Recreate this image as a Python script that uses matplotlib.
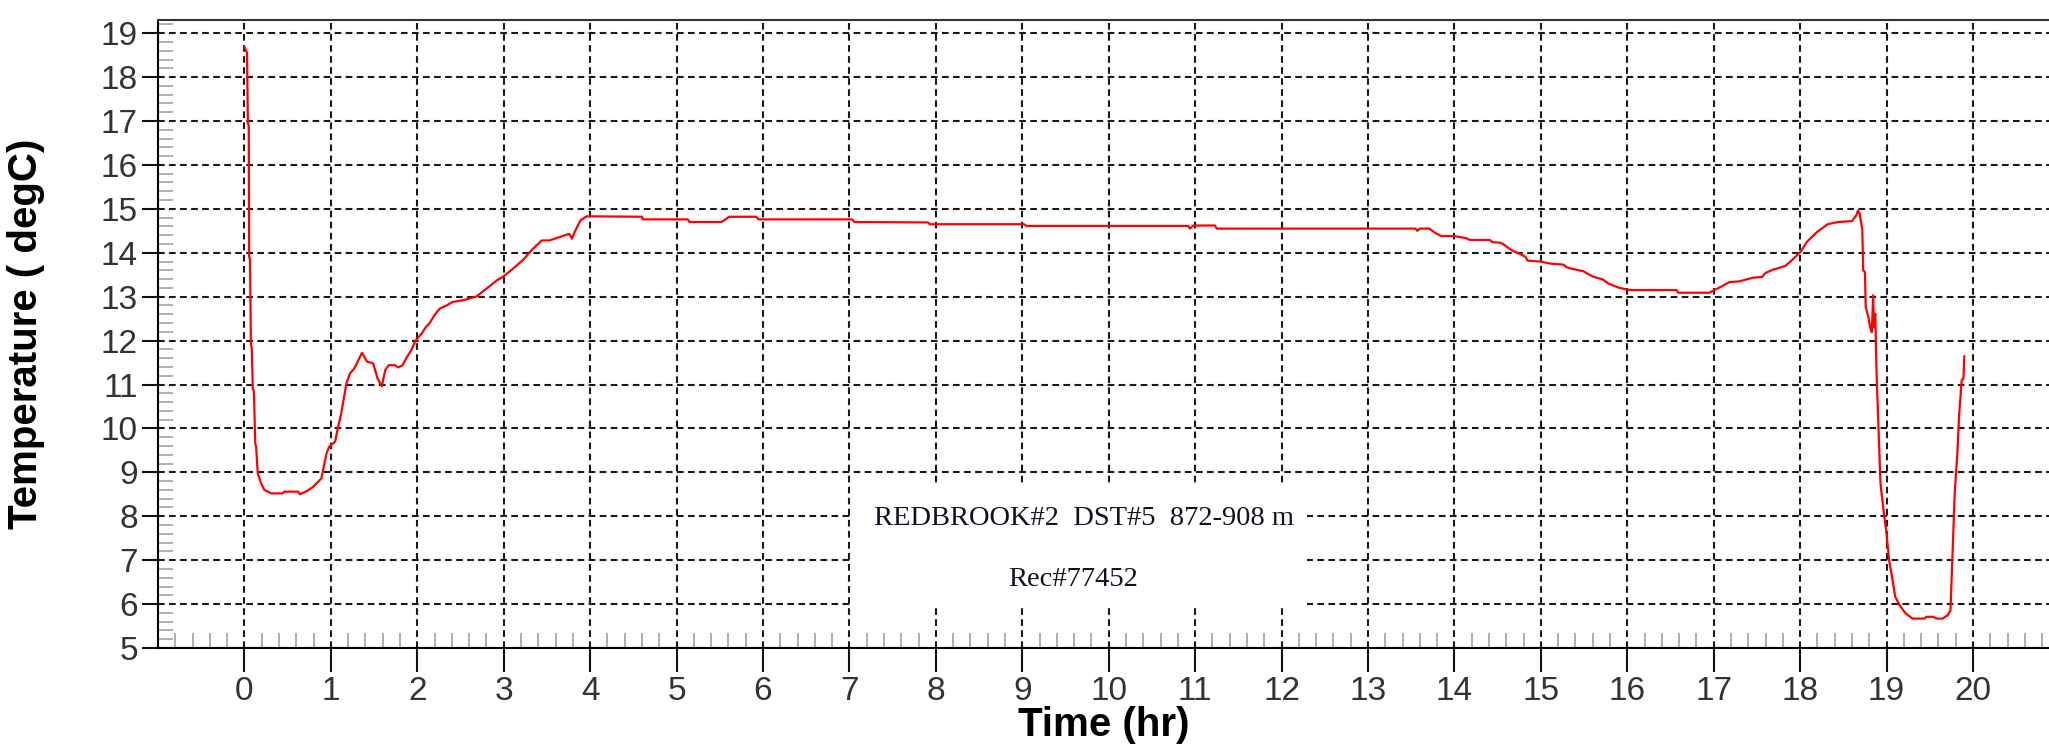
import numpy as np
import matplotlib
matplotlib.use('Agg')
import matplotlib.pyplot as plt
from matplotlib.ticker import MultipleLocator
from matplotlib.patches import Rectangle

plt.rcParams['font.family'] = ['Liberation Sans', 'DejaVu Sans']

# gauge record: elapsed time (hr) and temperature (degC)
time_hr = [0.0, 0.03, 0.04, 0.05, 0.055, 0.065, 0.075, 0.085, 0.097, 0.11, 0.125, 0.135,
           0.154, 0.193, 0.23, 0.31, 0.44, 0.46, 0.62, 0.64, 0.71, 0.79, 0.89, 0.91,
           0.95, 0.98, 1.05, 1.08, 1.12, 1.18, 1.22, 1.27, 1.31, 1.36, 1.42, 1.49,
           1.54, 1.59, 1.63, 1.67, 1.74, 1.78, 1.83, 1.87, 1.93, 1.98, 2.05, 2.10,
           2.14, 2.20, 2.26, 2.34, 2.41, 2.53, 2.68, 2.80, 2.92, 2.99, 3.11, 3.22,
           3.32, 3.44, 3.53, 3.65, 3.76, 3.79, 3.82, 3.87, 3.89, 3.96, 4.60, 4.61,
           5.13, 5.15, 5.52, 5.61, 5.92, 5.95, 7.03, 7.06, 7.91, 7.93, 9.02, 9.05,
           10.92, 10.94, 10.98, 11.23, 11.25, 13.55, 13.57, 13.60, 13.71, 13.78, 13.85, 14.0,
           14.14, 14.18, 14.41, 14.44, 14.53, 14.57, 14.66, 14.76, 14.82, 14.85, 14.99, 15.12,
           15.26, 15.30, 15.37, 15.49, 15.60, 15.72, 15.78, 15.91, 16.03, 16.57, 16.59, 16.95,
           17.01, 17.08, 17.18, 17.30, 17.45, 17.56, 17.60, 17.68, 17.83, 17.91, 18.01, 18.08,
           18.20, 18.32, 18.44, 18.60, 18.65, 18.67, 18.69, 18.72, 18.73, 18.75, 18.76, 18.79,
           18.81, 18.83, 18.845, 18.855, 18.87, 18.885, 18.91, 18.93, 18.97, 19.0, 19.03, 19.07,
           19.10, 19.15, 19.22, 19.30, 19.44, 19.46, 19.54, 19.58, 19.65, 19.71, 19.74, 19.75,
           19.77, 19.79, 19.82, 19.84, 19.87, 19.89, 19.90]
temp_c = [18.69, 18.55, 16.95, 16.9, 13.9, 13.85, 11.9, 11.85, 10.9, 10.85, 9.65, 9.6,
          8.98, 8.75, 8.6, 8.52, 8.52, 8.56, 8.56, 8.5, 8.56, 8.66, 8.86, 9.05,
          9.43, 9.58, 9.7, 10.0, 10.34, 11.02, 11.25, 11.36, 11.52, 11.72, 11.52, 11.48,
          11.14, 10.96, 11.33, 11.44, 11.44, 11.39, 11.44, 11.59, 11.78, 12.0, 12.16, 12.31,
          12.39, 12.58, 12.73, 12.8, 12.88, 12.92, 13.0, 13.18, 13.37, 13.45, 13.64, 13.83,
          14.05, 14.28, 14.28, 14.36, 14.43, 14.32, 14.47, 14.66, 14.74, 14.83, 14.82, 14.76,
          14.76, 14.7, 14.7, 14.82, 14.82, 14.76, 14.76, 14.7, 14.69, 14.65, 14.65, 14.61,
          14.61, 14.55, 14.62, 14.62, 14.55, 14.55, 14.5, 14.55, 14.55, 14.45, 14.38, 14.38,
          14.33, 14.29, 14.29, 14.24, 14.23, 14.19, 14.06, 13.97, 13.91, 13.82, 13.8, 13.75,
          13.73, 13.67, 13.63, 13.58, 13.46, 13.39, 13.3, 13.2, 13.15, 13.15, 13.09, 13.09,
          13.15, 13.22, 13.33, 13.35, 13.43, 13.45, 13.54, 13.61, 13.7, 13.84, 14.03, 14.25,
          14.48, 14.65, 14.7, 14.72, 14.85, 14.96, 14.89, 14.52, 13.6, 13.56, 12.76, 12.54,
          12.31, 12.19, 13.03, 12.31, 12.61, 11.25, 9.84, 8.75, 8.06, 7.61, 7.0, 6.55,
          6.17, 5.98, 5.79, 5.67, 5.67, 5.71, 5.71, 5.67, 5.67, 5.75, 5.86, 6.4,
          7.49, 8.56, 9.43, 10.3, 11.1, 11.13, 11.64]

x_ticks = np.arange(0, 21)
y_ticks = np.arange(5, 20)
title_lines = ['REDBROOK#2  DST#5  872-908 m', 'Rec#77452']

W, H = 2049, 752
fig = plt.figure(figsize=(W / 100, H / 100), dpi=100)
ax = fig.add_axes([158 / W, 1 - 648 / H, 1 - 158 / W, (648 - 20) / H])

ax.plot(time_hr, temp_c, color='#ff0000', linewidth=1.6, zorder=3)

ax.set_xlim(-1, 20.88)
ax.set_ylim(5, 19.3)
ax.set_xticks(x_ticks)
ax.set_yticks(y_ticks)
ax.xaxis.set_minor_locator(MultipleLocator(0.2))
ax.yaxis.set_minor_locator(MultipleLocator(0.2))

ax.grid(True, which='major', color='#1a1a1a', linestyle=(0, (3.2, 2.1)), linewidth=1.5)

ax.tick_params(which='major', direction='out', width=1.5, color='#111111',
               labelsize=24, labelcolor='#333333')
ax.tick_params(axis='x', which='major', length=17, pad=3)
ax.tick_params(axis='y', which='major', length=11.5, pad=3)
ax.tick_params(which='minor', direction='in', length=11, width=1.1, color='#9a9a9a')

ax.spines['right'].set_visible(False)
for side in ['left', 'bottom', 'top']:
    ax.spines[side].set_linewidth(1.5)
ax.spines['top'].set_color('#333333')

# white label panel over the grid
ax.add_patch(Rectangle((7.03, 5.96), 5.27, 2.72, facecolor='white',
                       edgecolor='none', zorder=2))
ax.text(9.71, 7.94, title_lines[0], ha='center', va='center', fontsize=20.5,
        family='Liberation Serif', color='#101020', zorder=4)
ax.text(9.59, 6.57, title_lines[1], ha='center', va='center', fontsize=20.5,
        family='Liberation Serif', color='#101020', zorder=4)

fig.text(26 / W, 1 - 334 / H, 'Temperature ( degC)', rotation=90, ha='center',
         va='center', fontsize=29, fontweight='bold')
fig.text((158 + 2049) / 2 / W, 1 - 725 / H, 'Time (hr)', ha='center', va='center',
         fontsize=29, fontweight='bold')

fig.savefig('out.png', dpi=100)
